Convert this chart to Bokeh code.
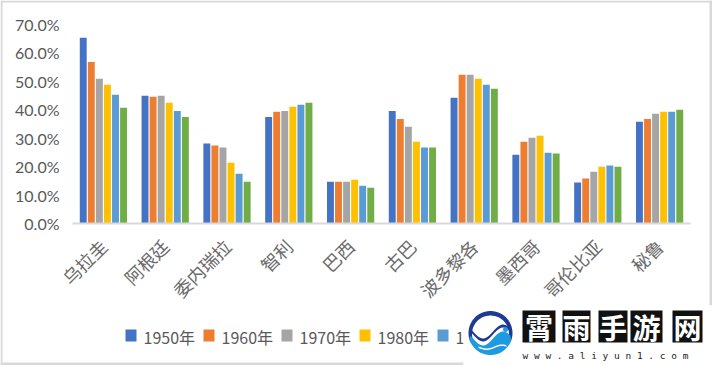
import numpy as np
from bokeh.plotting import figure
from bokeh.embed import file_html
from bokeh.resources import INLINE
from bokeh.core.properties import value
from bokeh.models import FactorRange, Range1d, NumeralTickFormatter, FixedTicker
from bokeh.transform import dodge

categories = ["乌拉圭", "阿根廷", "委内瑞拉", "智利", "巴西", "古巴", "波多黎各", "墨西哥", "哥伦比亚", "秘鲁"]
years = ["1950年", "1960年", "1970年", "1980年", "1990年", "2000年"]
colors = ["#4472C4", "#ED7D31", "#A5A5A5", "#FFC000", "#5B9BD5", "#70AD47"]
y1950 = [65.3, 44.9, 28.1, 37.5, 14.7, 39.6, 44.2, 24.2, 14.4, 35.8]
y1960 = [56.8, 44.6, 27.4, 39.3, 14.7, 36.8, 52.3, 28.8, 15.8, 36.8]
y1970 = [50.9, 44.9, 26.7, 39.6, 14.7, 34.0, 52.3, 30.2, 18.2, 38.6]
y1980 = [48.8, 42.5, 21.4, 41.1, 15.4, 28.8, 50.9, 30.9, 20.0, 39.3]
y1990 = [45.3, 39.6, 17.5, 41.8, 13.3, 26.7, 48.8, 24.9, 20.4, 39.3]
y2000 = [40.7, 37.5, 14.7, 42.5, 12.6, 26.7, 47.4, 24.6, 20.0, 40.0]
series = [y1950, y1960, y1970, y1980, y1990, y2000]
yticks = [0, .1, .2, .3, .4, .5, .6, .7]
GREY = "#595959"

p = figure(width=712, height=365, output_backend="svg", toolbar_location=None,
           x_range=FactorRange(factors=categories), y_range=Range1d(0, 0.7),
           min_border_left=72, min_border_right=22, min_border_top=24, min_border_bottom=142,
           outline_line_color=None, background_fill_color="white", border_fill_color="white")
p.styles = {"position": "absolute", "left": "0", "top": "0"}
p.grid.visible = False
p.yaxis.ticker = FixedTicker(ticks=yticks)
p.yaxis.formatter = NumeralTickFormatter(format="0.0%")
p.yaxis.axis_line_color = None
p.yaxis.major_tick_line_color = None
p.yaxis.minor_tick_line_color = None
p.yaxis.major_label_text_font = "Lato"
p.yaxis.major_label_text_font_size = "16px"
p.yaxis.major_label_text_color = GREY
p.yaxis.major_label_standoff = 7
p.xaxis.axis_line_color = "#D9D9D9"
p.xaxis.axis_line_width = 2
p.xaxis.major_tick_line_color = None
p.xaxis.minor_tick_line_color = None
p.xaxis.major_label_orientation = np.pi / 4
p.xaxis.major_label_text_font = "Noto Sans CJK SC"
p.xaxis.major_label_text_font_size = "18px"
p.xaxis.major_label_text_color = "#6a6a6a"
p.xaxis.major_label_standoff = 13

pitch, width = 0.1305, 0.112
for i, (vals, c) in enumerate(zip(series, colors)):
    src = dict(cat=categories, v=[x / 100 for x in vals])
    p.vbar(x=dodge("cat", (i - 2.5) * pitch, range=p.x_range), top="v", width=width, source=src, fill_color=c, line_color=None)

# transparent sheet over the whole picture, in pixel coordinates, for legend, frame and watermark
q = figure(width=712, height=365, output_backend="svg", toolbar_location=None,
           x_range=Range1d(0, 712), y_range=Range1d(365, 0), min_border=0,
           outline_line_color=None, background_fill_color=None, border_fill_color=None)
q.styles = {"position": "absolute", "left": "0", "top": "0"}
q.axis.visible = False
q.grid.visible = False

def box(l, r, t, b, c):
    q.quad(left=[l], right=[r], top=[t], bottom=[b], fill_color=c, line_color=None)

def label(x, y, s, font, size, c, align="left", style="normal"):
    q.text(x=[x], y=[y], text=[s], text_font=value(font), text_font_size=value(size), text_color=c,
           text_baseline="middle", text_align=align, text_font_style=style)

def poly(xs, ys, c):
    q.patch(list(xs), list(ys), fill_color=c, line_color=None)

# legend
for i, (yr, c) in enumerate(zip(years, colors)):
    x0 = 125 + 78 * i
    box(x0, x0 + 11, 329, 341, c)
    label(x0 + 18, 336, yr, "Noto Sans CJK SC", "16px", GREY)

# frame
for l, r, t, b in [(0, 712, 0, 2), (0, 2, 0, 365), (709, 712, 0, 305), (0, 463, 362, 365)]:
    box(l, r, t, b, "#D9D9D9")

# watermark
box(463, 712, 305, 365, "white")
cx, cy, R = 490, 332.5, 22
a = np.radians(np.linspace(-25, 205, 50))
poly(np.r_[cx + R * np.cos(a), cx + (R - 3.5) * np.cos(a[::-1])], np.r_[cy - R * np.sin(a), cy - (R - 3.5) * np.sin(a[::-1]) + 1], "#1F3A93")
sx = np.linspace(470, 510, 40)
wave = 331 + 7 * np.sin((sx - 470) / 40 * 2 * np.pi - 0.4)
poly(np.r_[sx, sx[::-1]], np.r_[wave, wave[::-1] + 3], "#1F3A93")
b = np.radians(np.linspace(195, 340, 40))
poly(np.r_[cx + R * np.cos(b), sx[::-1]], np.r_[cy - R * np.sin(b), wave[::-1] + 7], "#1E9BE0")
wv2 = np.linspace(478, 506, 20)
poly(np.r_[wv2, wv2[::-1]], np.r_[346 + 2 * np.sin((wv2 - 478) / 5), 347.5 + 2 * np.sin((wv2[::-1] - 478) / 5)], "white")
t = np.linspace(0, 2 * np.pi, 20)
poly(505 + 2.5 * np.cos(t), 329 + 2.5 * np.sin(t), "#1E9BE0")

for ch, l, r in zip("霄雨手游网", [522, 562, 598, 630, 672], [555, 590, 627, 662, 702]):
    box(l, r, 310, 342, "#111111")
    label((l + r) / 2, 326.5, ch, "Noto Sans CJK SC", "28px", "white", align="center", style="bold")
label(522, 355, "w w w . a l i y u n 1 . c o m", "DejaVu Sans Mono", "9.5px", "#222222")

open("out.html", "w").write(file_html([p, q], INLINE))
